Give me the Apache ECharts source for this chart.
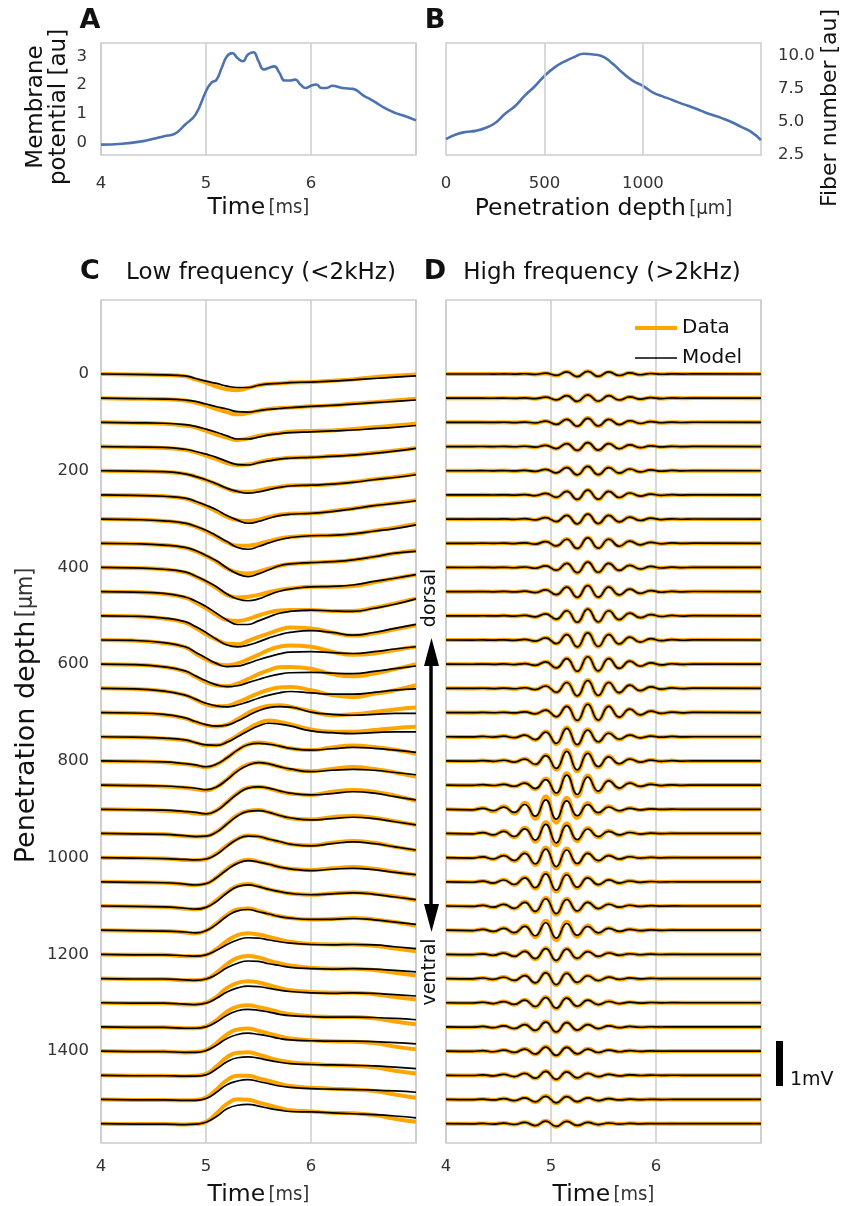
<!DOCTYPE html>
<html>
<head>
<meta charset="utf-8">
<script src="https://cdn.jsdelivr.net/npm/echarts@6/dist/echarts.min.js"></script>
<style>
html,body{margin:0;padding:0;background:#fff}
#main{width:845px;height:1206px}
</style>
</head>
<body>
<div id="main"></div>
<script>
// panel A: membrane potential
var timeA = [4.0,4.2,4.4,4.5,4.6,4.7,4.8,4.9,5.0,5.05,5.1,5.15,5.2,5.25,5.3,5.35,5.4,5.45,5.5,5.55,5.6,5.65,5.7,5.75,5.8,5.85,5.9,5.95,6.0,6.05,6.1,6.15,6.2,6.3,6.4,6.5,6.6,6.7,6.8,6.9,7.0];
var potA = [-0.06,-0.03,0.06,0.14,0.23,0.31,0.63,0.98,1.79,2.08,2.19,2.6,3.0,3.11,2.94,2.83,3.06,3.14,2.83,2.54,2.6,2.65,2.42,2.16,2.16,2.19,2.02,1.9,1.98,2.02,1.9,1.9,1.98,1.9,1.87,1.64,1.44,1.21,1.04,0.92,0.78];

// panel B: fiber number vs depth
var depthB = [0,50,100,150,200,250,300,350,400,450,500,550,600,650,700,750,800,850,900,950,1000,1050,1100,1150,1200,1250,1300,1350,1400,1450,1500,1550,1600];
var fiberB = [3.7,4.05,4.25,4.33,4.55,4.93,5.63,6.2,7.0,7.7,8.5,9.13,9.58,9.93,10.18,10.13,9.95,9.38,8.7,8.13,7.75,7.25,6.95,6.68,6.38,6.13,5.83,5.55,5.3,5.0,4.63,4.25,3.63];

// recording depths (um) for panels C and D
var depths = [0,50,100,150,200,250,300,350,400,450,500,550,600,650,700,750,800,850,900,950,1000,1050,1100,1150,1200,1250,1300,1350,1400,1450,1500,1550];

// panel C: low frequency, values in uV
var timeLF = [4.0,4.3,4.6,4.8,4.9,5.0,5.1,5.2,5.3,5.4,5.5,5.6,5.7,5.8,6.0,6.2,6.4,6.6,6.8,7.0];
var lfData = [
[0,-10,-20,-50,-120,-190,-280,-340,-360,-310,-250,-220,-210,-190,-180,-150,-120,-70,-40,-10],
[0,-10,-20,-50,-100,-160,-240,-310,-360,-330,-280,-240,-220,-210,-180,-160,-120,-90,-50,-10],
[0,-10,-30,-70,-110,-190,-270,-340,-390,-360,-300,-270,-240,-210,-190,-180,-150,-110,-70,-30],
[0,-10,-30,-70,-130,-200,-280,-370,-410,-400,-350,-300,-270,-250,-240,-210,-190,-140,-90,-30],
[0,-10,-30,-70,-130,-210,-300,-400,-460,-470,-440,-390,-360,-330,-320,-300,-250,-190,-140,-70],
[0,-10,-30,-80,-160,-250,-370,-490,-560,-580,-550,-490,-440,-420,-410,-360,-300,-240,-180,-120],
[0,-10,-40,-100,-170,-270,-390,-520,-590,-590,-550,-490,-430,-400,-370,-360,-330,-260,-190,-110],
[0,-10,-40,-100,-180,-280,-410,-560,-650,-670,-630,-560,-500,-460,-430,-410,-370,-300,-220,-160],
[0,-10,-40,-110,-200,-320,-460,-610,-670,-650,-610,-550,-500,-470,-430,-430,-410,-330,-240,-160],
[0,-10,-50,-130,-240,-370,-520,-630,-650,-610,-530,-460,-420,-410,-410,-430,-430,-360,-260,-150],
[0,-10,-60,-150,-270,-410,-530,-620,-630,-560,-470,-390,-310,-260,-280,-370,-440,-390,-300,-210],
[0,-10,-70,-160,-300,-430,-530,-560,-520,-430,-330,-220,-150,-120,-150,-260,-330,-300,-220,-150],
[0,-10,-60,-160,-280,-400,-470,-490,-430,-330,-220,-130,-70,-60,-100,-220,-270,-210,-110,0],
[0,-10,-60,-150,-250,-350,-400,-390,-310,-210,-110,-30,20,30,-40,-150,-190,-120,-40,70],
[0,-10,-50,-130,-210,-280,-310,-270,-150,-10,90,150,160,130,30,-60,-40,10,70,110],
[0,-10,-40,-80,-130,-190,-190,-110,30,180,300,360,330,280,160,110,110,150,190,220],
[0,-10,-30,-70,-100,-140,-80,70,240,370,410,380,330,280,240,300,340,310,250,160],
[0,-10,-30,-60,-90,-120,-40,130,330,460,500,470,410,350,310,360,400,360,280,190],
[0,-10,-30,-60,-90,-110,-20,160,360,480,500,460,400,350,320,390,430,390,300,190],
[0,-10,-20,-60,-70,-60,40,220,410,500,520,470,400,340,310,360,390,350,270,190],
[0,-10,-20,-50,-60,-30,90,270,420,490,470,410,350,300,270,330,370,330,240,160],
[0,-10,-20,-60,-70,-40,100,290,430,490,450,390,330,290,260,300,330,290,220,150],
[0,-10,-20,-60,-70,-30,130,310,450,490,440,370,320,280,250,280,300,270,210,130],
[0,-10,-20,-50,-70,-10,150,340,460,480,430,360,310,270,240,250,270,240,180,100],
[0,-10,-10,-40,-40,-10,120,300,430,470,440,390,330,280,230,220,220,190,130,70],
[0,-10,-10,-40,-40,-10,130,320,460,500,470,400,340,290,240,220,220,190,130,70],
[0,-10,-10,-40,-40,0,130,330,440,480,450,390,330,280,240,220,220,190,130,70],
[0,-10,-10,-30,-30,10,150,340,450,480,440,390,330,280,240,220,220,190,120,60],
[0,-10,-10,-30,-20,20,180,370,480,500,450,390,330,280,240,220,210,180,100,40],
[0,-10,-10,-20,-10,30,200,400,500,510,460,390,330,290,250,230,210,180,100,40],
[0,-10,-10,-20,-10,40,220,430,530,530,470,410,350,300,260,240,220,190,110,40],
[0,-10,-10,-20,-10,40,230,440,540,530,470,410,350,300,270,240,230,190,110,40]
];
var lfModel = [
[0,-10,-20,-40,-100,-160,-210,-270,-300,-300,-250,-220,-210,-190,-180,-160,-130,-100,-70,-40],
[0,-10,-20,-40,-70,-130,-190,-240,-300,-310,-280,-250,-230,-210,-180,-160,-130,-100,-70,-40],
[0,-10,-20,-50,-90,-150,-220,-300,-370,-370,-330,-280,-250,-230,-210,-190,-170,-140,-110,-70],
[0,-10,-20,-60,-110,-170,-240,-330,-400,-410,-360,-320,-280,-260,-240,-220,-190,-150,-100,-40],
[0,-10,-20,-70,-130,-200,-290,-390,-460,-500,-470,-420,-370,-340,-320,-300,-260,-200,-150,-90],
[0,-10,-30,-70,-140,-230,-330,-460,-560,-630,-590,-520,-460,-430,-410,-370,-310,-240,-190,-130],
[0,-10,-40,-90,-160,-250,-370,-500,-630,-670,-610,-530,-460,-410,-370,-360,-330,-270,-210,-130],
[0,-10,-40,-90,-160,-270,-390,-550,-680,-740,-680,-590,-500,-460,-430,-410,-370,-300,-220,-180],
[0,-10,-40,-100,-190,-300,-430,-590,-700,-740,-700,-610,-530,-480,-430,-420,-390,-310,-240,-160],
[0,-10,-40,-120,-210,-330,-480,-630,-730,-730,-650,-560,-480,-440,-410,-430,-440,-370,-280,-160],
[0,-10,-50,-130,-240,-370,-520,-650,-690,-650,-580,-490,-420,-370,-330,-370,-430,-370,-280,-190],
[0,-10,-60,-150,-270,-400,-520,-590,-580,-520,-440,-370,-310,-270,-260,-280,-300,-260,-200,-150],
[0,-10,-60,-150,-260,-370,-460,-500,-480,-410,-340,-270,-220,-190,-180,-200,-210,-160,-100,-40],
[0,-10,-60,-150,-240,-330,-390,-410,-370,-300,-220,-150,-100,-70,-100,-130,-130,-90,-40,-10],
[0,-10,-40,-120,-200,-270,-300,-280,-190,-70,40,110,130,120,10,-40,-60,-40,-20,-20],
[0,-10,-30,-70,-130,-180,-190,-120,0,130,240,300,280,240,130,90,70,90,110,110],
[0,-10,-20,-60,-90,-130,-70,70,240,360,390,370,330,280,240,270,300,280,240,190],
[0,-10,-20,-50,-70,-100,-40,120,310,440,500,470,410,360,300,330,350,330,280,230],
[0,-10,-20,-50,-70,-100,-30,150,340,470,500,470,410,360,320,350,390,360,280,210],
[0,-10,-20,-50,-70,-60,30,210,390,490,510,470,400,350,300,330,360,330,260,190],
[0,-10,-20,-40,-50,-30,70,250,410,480,470,410,360,300,260,310,350,310,240,170],
[0,-10,-20,-50,-70,-40,90,270,410,470,440,390,330,290,250,280,300,270,210,160],
[0,-10,-20,-50,-70,-30,100,290,430,470,430,370,320,280,250,270,290,260,200,140],
[0,-10,-20,-40,-60,-10,130,310,430,460,410,360,300,270,240,240,260,230,180,130],
[0,-10,-10,-30,-40,-10,90,220,320,370,360,320,280,250,220,210,220,210,170,130],
[0,-10,-10,-30,-40,-10,90,240,340,390,380,330,290,250,220,210,220,210,180,150],
[0,-10,-10,-30,-40,-10,100,240,330,370,360,320,280,250,220,210,220,210,180,150],
[0,-10,-10,-30,-30,0,110,260,360,390,370,330,280,250,230,220,220,210,190,160],
[0,-10,-10,-30,-30,10,130,280,370,400,370,330,280,250,230,220,220,210,190,160],
[0,-10,-10,-20,-20,10,140,300,390,410,380,330,290,260,240,230,220,210,180,150],
[0,-10,-10,-20,-20,20,160,330,410,440,400,350,300,270,240,230,220,210,190,160],
[0,-10,-10,-20,-10,30,160,330,410,430,390,340,300,270,260,240,220,200,170,130]
];

// panel D: high frequency, values in uV at the wave extrema
var timeHF = [4.0,4.25,4.35,4.45,4.55,4.65,4.75,4.85,4.95,5.05,5.15,5.25,5.35,5.45,5.55,5.65,5.75,5.85,5.95,6.05,6.15,6.25,6.35,7.0];
var hfData = [
[0,0,0,-1,2,-3,5,-9,19,-32,48,-60,63,-57,47,-35,25,-18,12,-6,4,-2,1,0],
[0,0,0,-2,2,-4,6,-12,24,-40,59,-75,79,-71,59,-43,32,-22,15,-8,5,-2,2,0],
[0,0,1,-2,3,-5,7,-15,28,-47,71,-90,95,-85,71,-53,38,-26,17,-9,5,-3,2,0],
[0,0,1,-2,3,-4,7,-14,28,-47,70,-89,92,-84,70,-51,38,-26,17,-9,5,-3,2,0],
[0,0,1,-2,3,-5,8,-15,30,-50,75,-95,100,-90,75,-55,40,-28,18,-11,6,-3,2,0],
[0,0,1,-2,3,-5,8,-17,34,-56,83,-105,110,-100,83,-61,44,-30,20,-12,6,-3,2,0],
[0,-1,1,-2,3,-6,9,-18,35,-58,87,-110,116,-104,87,-64,46,-33,21,-12,7,-3,2,0],
[0,-1,2,-2,4,-6,11,-19,38,-63,95,-120,126,-113,95,-69,50,-36,23,-13,7,-4,2,0],
[0,-1,2,-2,4,-6,11,-19,38,-63,95,-122,126,-111,95,-69,50,-36,23,-13,7,-4,2,0],
[0,-1,2,-3,4,-7,12,-21,43,-71,106,-134,142,-128,106,-78,57,-40,25,-15,8,-4,3,0],
[0,-1,2,-3,5,-8,13,-24,47,-79,119,-150,158,-142,119,-87,63,-44,28,-16,9,-5,3,0],
[0,-1,2,-3,5,-8,14,-25,50,-84,126,-160,168,-151,126,-92,67,-47,30,-17,11,-5,3,0],
[0,-1,2,-3,5,-8,14,-26,53,-87,130,-165,173,-156,130,-96,69,-48,32,-18,11,-5,3,0],
[0,-2,3,-4,5,-9,15,-27,56,-92,138,-174,184,-166,138,-101,74,-51,34,-19,12,-5,4,0],
[0,-2,3,-4,6,-9,16,-29,59,-98,146,-185,194,-175,146,-107,78,-55,35,-20,12,-6,4,0],
[0,-4,7,-8,15,-25,41,-73,114,-166,207,-197,166,-124,87,-63,41,-27,17,-10,7,-4,0,0],
[0,-4,8,-9,17,-29,48,-85,133,-193,242,-230,193,-145,101,-72,48,-31,20,-13,7,-5,0,0],
[0,-5,9,-11,18,-31,53,-92,145,-211,264,-251,211,-158,110,-79,53,-35,22,-13,8,-5,0,0],
[0,-15,27,-45,65,-95,143,-208,282,-297,252,-193,139,-99,69,-45,30,-18,12,-5,3,0,0,0],
[0,-13,24,-40,58,-84,126,-184,250,-263,224,-171,124,-86,60,-40,26,-16,10,-5,3,0,0,0],
[0,-12,21,-35,52,-76,113,-165,224,-236,201,-153,111,-78,54,-35,24,-14,9,-5,2,0,0,0],
[0,-11,19,-32,47,-68,102,-150,202,-213,181,-138,100,-70,49,-32,22,-13,8,-5,2,0,0,0],
[0,-10,17,-29,41,-60,92,-133,181,-190,162,-124,90,-63,44,-29,19,-11,8,-3,2,0,0,0],
[0,-11,20,-33,49,-70,105,-154,208,-219,186,-143,103,-73,50,-33,23,-14,9,-5,3,0,0,0],
[0,-8,14,-22,34,-48,73,-106,143,-151,129,-99,71,-50,35,-22,16,-9,6,-3,1,0,0,0],
[0,-8,13,-21,32,-47,72,-105,142,-150,128,-97,69,-49,34,-22,15,-9,6,-2,1,0,0,0],
[0,-7,12,-20,29,-43,65,-94,128,-134,114,-87,63,-45,31,-20,13,-8,6,-2,1,0,0,0],
[0,-6,11,-19,27,-39,59,-86,118,-123,105,-81,58,-40,28,-19,12,-8,4,-2,1,0,0,0],
[0,-5,10,-16,24,-34,52,-75,101,-106,91,-69,50,-35,25,-16,11,-7,4,-2,1,0,0,0],
[0,-5,9,-16,22,-32,48,-71,96,-101,86,-66,47,-34,24,-16,10,-6,4,-2,1,0,0,0],
[0,-4,8,-12,19,-27,40,-59,80,-84,72,-55,39,-28,19,-12,9,-6,3,-2,1,0,0,0],
[0,-3,6,-10,15,-21,32,-47,64,-67,57,-44,31,-22,16,-10,7,-4,2,-1,1,0,0,0]
];
var hfModel = [
[0,0,0,-1,2,-3,5,-9,18,-30,45,-57,60,-54,45,-33,24,-17,11,-6,4,-2,1,0],
[0,0,0,-2,2,-4,6,-11,23,-38,56,-71,75,-68,56,-41,30,-21,14,-8,5,-2,2,0],
[0,0,1,-2,3,-5,7,-14,27,-45,68,-86,90,-81,68,-50,36,-25,16,-9,5,-3,2,0],
[0,0,1,-2,3,-4,7,-13,27,-45,67,-85,88,-80,67,-49,36,-25,16,-9,5,-3,2,0],
[0,0,1,-2,3,-5,8,-14,29,-48,71,-90,95,-86,71,-52,38,-27,17,-10,6,-3,2,0],
[0,0,1,-2,3,-5,8,-16,32,-53,79,-100,105,-95,79,-58,42,-29,19,-11,6,-3,2,0],
[0,-1,1,-2,3,-6,9,-17,33,-55,83,-105,110,-99,83,-61,44,-31,20,-11,7,-3,2,0],
[0,-1,2,-2,4,-6,10,-18,36,-60,90,-114,120,-108,90,-66,48,-34,22,-12,7,-4,2,0],
[0,-1,2,-2,4,-6,10,-18,36,-60,90,-116,120,-106,90,-66,48,-34,22,-12,7,-4,2,0],
[0,-1,2,-3,4,-7,11,-20,41,-68,101,-128,135,-122,101,-74,54,-38,24,-14,8,-4,3,0],
[0,-1,2,-3,5,-8,12,-23,45,-75,113,-143,150,-135,113,-83,60,-42,27,-15,9,-5,3,0],
[0,-1,2,-3,5,-8,13,-24,48,-80,120,-152,160,-144,120,-88,64,-45,29,-16,10,-5,3,0],
[0,-1,2,-3,5,-8,13,-25,50,-83,124,-157,165,-149,124,-91,66,-46,30,-17,10,-5,3,0],
[0,-2,3,-4,5,-9,14,-26,53,-88,131,-166,175,-158,131,-96,70,-49,32,-18,11,-5,4,0],
[0,-2,3,-4,6,-9,15,-28,56,-93,139,-176,185,-167,139,-102,74,-52,33,-19,11,-6,4,0],
[0,-4,7,-7,13,-22,37,-65,102,-148,185,-176,148,-111,78,-56,37,-24,15,-9,6,-4,0,0],
[0,-4,8,-8,15,-25,42,-74,116,-168,210,-200,168,-126,88,-63,42,-27,17,-11,6,-4,0,0],
[0,-4,9,-9,15,-26,44,-77,121,-176,220,-209,176,-132,92,-66,44,-29,18,-11,7,-4,0,0],
[0,-11,20,-33,48,-70,106,-154,209,-220,187,-143,103,-73,51,-33,22,-13,9,-4,2,0,0,0],
[0,-10,19,-32,46,-67,101,-147,200,-210,179,-137,99,-69,48,-32,21,-13,8,-4,2,0,0,0],
[0,-10,18,-30,44,-64,96,-140,190,-200,170,-130,94,-66,46,-30,20,-12,8,-4,2,0,0,0],
[0,-9,17,-28,41,-59,89,-130,176,-185,157,-120,87,-61,43,-28,19,-11,7,-4,2,0,0,0],
[0,-9,15,-26,37,-54,82,-119,162,-170,145,-111,80,-56,39,-26,17,-10,7,-3,2,0,0,0],
[0,-9,16,-26,39,-56,84,-123,166,-175,149,-114,82,-58,40,-26,18,-11,7,-4,2,0,0,0],
[0,-7,12,-20,30,-43,65,-95,128,-135,115,-88,63,-45,31,-20,14,-8,5,-3,1,0,0,0],
[0,-7,12,-19,29,-42,64,-94,127,-134,114,-87,62,-44,30,-20,13,-8,5,-2,1,0,0,0],
[0,-6,11,-18,26,-38,58,-84,114,-120,102,-78,56,-40,28,-18,12,-7,5,-2,1,0,0,0],
[0,-6,10,-17,24,-35,53,-77,105,-110,94,-72,52,-36,25,-17,11,-7,4,-2,1,0,0,0],
[0,-5,9,-14,21,-30,46,-67,90,-95,81,-62,45,-31,22,-14,10,-6,4,-2,1,0,0,0],
[0,-5,8,-14,20,-29,43,-63,86,-90,77,-59,42,-30,21,-14,9,-5,4,-2,1,0,0,0],
[0,-4,7,-11,17,-24,36,-53,71,-75,64,-49,35,-25,17,-11,8,-5,3,-2,1,0,0,0],
[0,-3,5,-9,13,-19,29,-42,57,-60,51,-39,28,-20,14,-9,6,-4,2,-1,1,0,0,0]
];

var myChart = echarts.init(document.getElementById('main'));
var umPerMv = 93;     // vertical size of 1 mV in depth units
var font = 'DejaVu Sans';
var narrow = "'DejaVu Sans Condensed', 'Liberation Sans Narrow', sans-serif";
var gridColor = '#cccccc';
var labelColor = '#333';
var orange = '#ffa500';

function rich(big, small)
{
	return {
		a: {fontFamily: font, fontSize: big, color: '#111'},
		b: {fontFamily: narrow, fontSize: small, color: '#333'}
	};
}

function trace(times, vals, depth)
{
	return times.map(function(t, j){
		return [t, depth - vals[j] * umPerMv / 1000];
	});
}

function timeAxis(grid, margin, gap)
{
	return {
		gridIndex: grid, type: 'value', min: 4, max: 7, interval: 1,
		axisLine: {show: false}, axisTick: {show: false},
		splitLine: {show: true, lineStyle: {color: gridColor, width: 1.5}},
		axisLabel: {margin: margin, fontFamily: font, fontSize: 16.5, color: labelColor, showMaxLabel: false},
		name: '{a|Time} {b|[ms]}', nameLocation: 'middle', nameGap: gap,
		nameTextStyle: {rich: rich(23.5, 20)}
	};
}

function depthAxis(grid, labels)
{
	return {
		gridIndex: grid, type: 'value', min: -153, max: 1590, inverse: true,
		minInterval: 200, maxInterval: 200,
		axisLine: {show: false}, axisTick: {show: false}, splitLine: {show: false},
		axisLabel: {
			show: labels, margin: 12, fontFamily: font, fontSize: 16.5, color: labelColor,
			showMinLabel: false, showMaxLabel: false,
			formatter: function(v){ return (v % 200 === 0 && v >= 0 && v <= 1400) ? v : ''; }
		},
		name: labels ? '{a|Penetration depth} {b|[µm]}' : '', nameLocation: 'middle', nameGap: 61, nameRotate: 90,
		nameTextStyle: {rich: rich(27, 23), padding: [0, 0, 0, 12]}
	};
}

var series = [];
series.push({
	type: 'line', xAxisIndex: 0, yAxisIndex: 0, symbol: 'none', smooth: true, z: 3,
	lineStyle: {color: '#4c72b0', width: 2.6},
	data: timeA.map(function(t, i){ return [t, potA[i]]; })
});
series.push({
	type: 'line', xAxisIndex: 1, yAxisIndex: 1, symbol: 'none', z: 1, data: [],
	markLine: {
		silent: true, symbol: 'none', label: {show: false}, animation: false,
		lineStyle: {color: gridColor, width: 1.5, type: 'solid'},
		data: [{xAxis: 500}, {xAxis: 1000}]
	}
});
series.push({
	type: 'line', xAxisIndex: 1, yAxisIndex: 1, symbol: 'none', smooth: true, z: 3,
	lineStyle: {color: '#4c72b0', width: 2.6},
	data: depthB.map(function(d, i){ return [d, fiberB[i]]; })
});

function addTraces(axis, times, dataSet, modelSet)
{
	depths.forEach(function(d, i){
		series.push({
			name: 'Data', type: 'line', xAxisIndex: axis, yAxisIndex: axis, symbol: 'none',
			smooth: true, z: 2, lineStyle: {color: orange, width: 4}, itemStyle: {color: orange},
			data: trace(times, dataSet[i], d)
		});
	});
	depths.forEach(function(d, i){
		series.push({
			name: 'Model', type: 'line', xAxisIndex: axis, yAxisIndex: axis, symbol: 'none',
			smooth: true, z: 3, lineStyle: {color: '#000', width: 1.7}, itemStyle: {color: '#000'},
			data: trace(times, modelSet[i], d)
		});
	});
}
addTraces(2, timeLF, lfData, lfModel);
addTraces(3, timeHF, hfData, hfModel);

var gridBase = {show: true, borderColor: gridColor, borderWidth: 1.5, containLabel: false, outerBoundsMode: 'none'};
var option = {
	animation: false,
	backgroundColor: '#fff',
	grid: [
		Object.assign({left: 101, top: 43, width: 315, height: 112}, gridBase),
		Object.assign({left: 446, top: 43, width: 315, height: 112}, gridBase),
		Object.assign({left: 101, top: 300, width: 315, height: 843}, gridBase),
		Object.assign({left: 446, top: 300, width: 315, height: 843}, gridBase)
	],
	xAxis: [
		timeAxis(0, 20, 41),
		{
			gridIndex: 1, type: 'value', min: 0, max: 1600, interval: 500,
			axisLine: {show: false}, axisTick: {show: false}, splitLine: {show: false},
			axisLabel: {margin: 20, fontFamily: font, fontSize: 16.5, color: labelColor,
				formatter: function(v){ return v <= 1000 ? v : ''; }},
			name: '{a|Penetration depth} {b|[µm]}', nameLocation: 'middle', nameGap: 42,
			nameTextStyle: {rich: rich(23.5, 20)}
		},
		timeAxis(2, 15, 40),
		timeAxis(3, 15, 40)
	],
	yAxis: [
		{
			gridIndex: 0, type: 'value', min: -0.42, max: 3.46, minInterval: 1, maxInterval: 1,
			axisLine: {show: false}, axisTick: {show: false}, splitLine: {show: false},
			axisLabel: {margin: 14, fontFamily: font, fontSize: 16.5, color: labelColor,
				showMinLabel: false, showMaxLabel: false,
				formatter: function(v){ return Math.abs(v - Math.round(v)) < 1e-6 ? Math.round(v) : ''; }},
			name: 'Membrane\npotential [au]', nameLocation: 'middle', nameGap: 30, nameRotate: 90,
			nameTextStyle: {fontFamily: font, fontSize: 23, color: '#111', lineHeight: 23, padding: [0, 16, 0, 0]}
		},
		{
			gridIndex: 1, type: 'value', position: 'right', min: 2.5, max: 11, interval: 2.5,
			axisLine: {show: false}, axisTick: {show: false}, splitLine: {show: false},
			axisLabel: {margin: 17, fontFamily: font, fontSize: 16.5, color: labelColor, showMaxLabel: false,
				formatter: function(v){ return v.toFixed(1); }},
			name: 'Fiber number [au]', nameLocation: 'middle', nameGap: 58, nameRotate: 90,
			nameTextStyle: {fontFamily: font, fontSize: 22, color: '#111', padding: [0, 18, 0, 0]}
		},
		depthAxis(2, true),
		depthAxis(3, false)
	],
	legend: {
		data: [
			{name: 'Data', lineStyle: {color: orange, width: 4}},
			{name: 'Model', lineStyle: {color: '#000', width: 1.7}}
		],
		orient: 'vertical', left: 628, top: 313,
		itemWidth: 42, itemHeight: 14, itemGap: 10, selectedMode: false,
		itemStyle: {opacity: 0},
		textStyle: {fontFamily: font, fontSize: 20, color: '#111'}
	},
	series: series
};
myChart.setOption(option);

// decorations: panel letters, titles, arrow, scale bar
var p0 = myChart.convertToPixel({yAxisIndex: 3}, 0);
var p1 = myChart.convertToPixel({yAxisIndex: 3}, umPerMv);
var barH = Math.abs(p1 - p0);
function txt(s, x, y, f, rot)
{
	return {
		type: 'text', x: x, y: y, rotation: rot || 0,
		style: {text: s, x: 0, y: 0, font: f, fill: '#111', textAlign: 'center', textVerticalAlign: 'middle'}
	};
}
myChart.setOption({
	graphic: [
		txt('A', 90, 21, 'bold 27px DejaVu Sans'),
		txt('B', 435, 21, 'bold 27px DejaVu Sans'),
		txt('C', 90, 272, 'bold 27px DejaVu Sans'),
		txt('D', 435, 272, 'bold 27px DejaVu Sans'),
		txt('Low frequency (<2kHz)', 261, 273, '23px DejaVu Sans'),
		txt('High frequency (>2kHz)', 602, 273, '23px DejaVu Sans'),
		txt('dorsal', 430, 598, '19px DejaVu Sans', Math.PI / 2),
		txt('ventral', 430, 972, '19px DejaVu Sans', Math.PI / 2),
		{type: 'line', shape: {x1: 431, y1: 660, x2: 431, y2: 910}, style: {stroke: '#000', lineWidth: 3.5}},
		{type: 'polygon', shape: {points: [[424, 666], [439, 666], [431.5, 638]]}, style: {fill: '#000'}},
		{type: 'polygon', shape: {points: [[424, 904], [439, 904], [431.5, 932]]}, style: {fill: '#000'}},
		{type: 'rect', shape: {x: 776, y: 1086 - barH, width: 7, height: barH}, style: {fill: '#000'}},
		{type: 'text', x: 790, y: 1080, style: {text: '1mV', font: '19px DejaVu Sans', fill: '#111', textAlign: 'left', textVerticalAlign: 'middle'}}
	]
});
</script>
</body>
</html>
